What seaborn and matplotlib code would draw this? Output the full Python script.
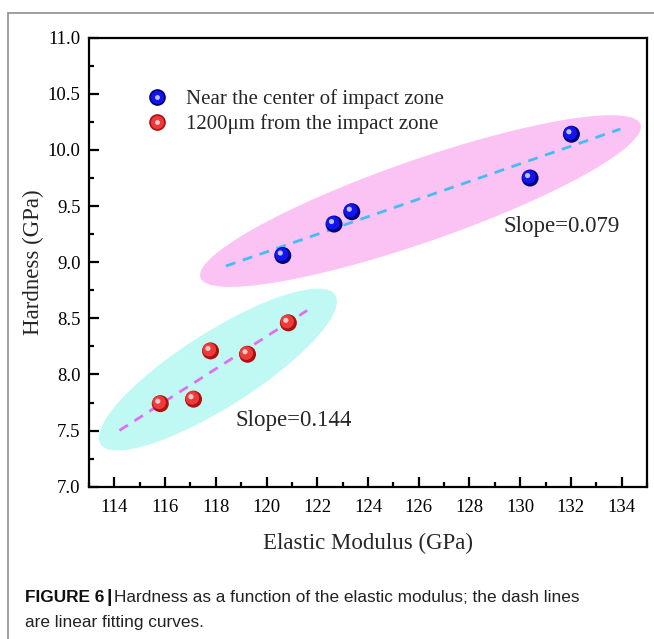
import matplotlib
matplotlib.use("Agg")
import matplotlib.pyplot as plt
import matplotlib.transforms as mtransforms
from matplotlib.patches import Ellipse
from matplotlib.lines import Line2D
from matplotlib.legend_handler import HandlerTuple
from matplotlib.ticker import MultipleLocator
import numpy as np
import pandas as pd
import seaborn as sns

# data
near_modulus = [120.64, 122.66, 123.36, 130.39, 132.02]
near_hardness = [9.06, 9.34, 9.45, 9.75, 10.14]
far_modulus = [115.81, 117.12, 117.79, 119.25, 120.86]
far_hardness = [7.74, 7.78, 8.21, 8.18, 8.46]
labels = ["Near the center of impact zone", "1200\u03bcm from the impact zone"]
slope_labels = ["Slope=0.079", "Slope=0.144"]
near_fit_range = [118.4, 133.95]
far_fit_range = [114.2, 121.6]
x_ticks = list(range(114, 136, 2))
y_ticks = [7.0, 7.5, 8.0, 8.5, 9.0, 9.5, 10.0, 10.5, 11.0]

df = pd.DataFrame({
    "modulus": near_modulus + far_modulus,
    "hardness": near_hardness + far_hardness,
    "group": [labels[0]] * 5 + [labels[1]] * 5,
})

sns.set_theme(style="ticks")
plt.rcParams["font.family"] = ["Liberation Serif", "DejaVu Serif"]

fig = plt.figure(figsize=(6.54, 6.39), dpi=100)
ax = fig.add_axes([0.1361, 0.2383, 0.8532, 0.7027])
ax.set_xlim(113, 135)
ax.set_ylim(7.0, 11.0)

# shaded ellipses (size in inches, centred on a data point)
def blob(cx, cy, a_px, b_px, angle, color):
    tr = fig.dpi_scale_trans + mtransforms.ScaledTranslation(cx, cy, ax.transData)
    e = Ellipse((0, 0), 2 * a_px / 100, 2 * b_px / 100, angle=angle,
                transform=tr, facecolor=color, edgecolor="none", zorder=1)
    ax.add_patch(e)

blob(126.07, 9.545, 233, 41, 19.2, "#fac3f4")
blob(118.08, 8.044, 139, 37.5, 32.4, "#c0f8f4")

# linear fits
for xs, ys, rng, col in [(near_modulus, near_hardness, near_fit_range, "#45bdf0"),
                         (far_modulus, far_hardness, far_fit_range, "#e070ef")]:
    k, b = np.polyfit(xs, ys, 1)
    xx = np.array(rng)
    ax.plot(xx, k * xx + b, color=col, lw=2.0, dashes=(3.6, 2.8), zorder=2)

# spherical markers: dark rim, body, highlight
palette_dark = {labels[0]: "#00007a", labels[1]: "#b01010"}
palette_body = {labels[0]: "#1414f0", labels[1]: "#ee3a3a"}
palette_hi = {labels[0]: "#b8c4ff", labels[1]: "#ffc8c8"}
shift = mtransforms.offset_copy(ax.transData, fig=fig, x=-1.2, y=1.2, units="dots")
shift2 = mtransforms.offset_copy(ax.transData, fig=fig, x=-2.5, y=2.5, units="dots")

sns.scatterplot(data=df, x="modulus", y="hardness", hue="group", palette=palette_dark,
                s=150, linewidth=0, legend=False, ax=ax, zorder=3)
sns.scatterplot(data=df, x="modulus", y="hardness", hue="group", palette=palette_body,
                s=95, linewidth=0, legend=False, ax=ax, zorder=4, transform=shift)
sns.scatterplot(data=df, x="modulus", y="hardness", hue="group", palette=palette_hi,
                s=14, linewidth=0, legend=False, ax=ax, zorder=5, transform=shift2)

handles = []
for lab in labels:
    handles.append((
        Line2D([], [], ls="none", marker="o", ms=12, mec="none", mfc=palette_dark[lab]),
        Line2D([], [], ls="none", marker="o", ms=9.5, mec="none", mfc=palette_body[lab]),
        Line2D([], [], ls="none", marker="o", ms=3.5, mec="none", mfc=palette_hi[lab]),
    ))
ax.legend(handles, labels, handler_map={tuple: HandlerTuple(ndivide=1)},
          loc="upper left", bbox_to_anchor=(0.065, 0.927), frameon=False,
          fontsize=15, handletextpad=0.8, labelspacing=0.25, handlelength=1.2)

ax.text(131.64, 9.314, slope_labels[0], fontsize=16.5, ha="center", va="center")
ax.text(121.07, 7.588, slope_labels[1], fontsize=16.5, ha="center", va="center")

ax.set_xticks(x_ticks)
ax.set_yticks(y_ticks)
ax.set_yticklabels([f"{v:.1f}" for v in y_ticks])
ax.xaxis.set_minor_locator(MultipleLocator(1))
ax.yaxis.set_minor_locator(MultipleLocator(0.25))
ax.tick_params(which="both", direction="in", top=False, right=False,
               width=1.6, colors="black", labelsize=13.5)
ax.tick_params(axis="x", pad=9)
ax.tick_params(axis="y", pad=6)
ax.tick_params(which="major", length=7)
ax.tick_params(which="minor", length=3.5)
for sp in ax.spines.values():
    sp.set_visible(True)
    sp.set_linewidth(1.6)
    sp.set_color("black")
ax.set_facecolor("white")
ax.grid(False)
ax.set_xlabel("Elastic Modulus (GPa)", fontsize=16.5, labelpad=12)
ax.set_ylabel("Hardness (GPa)", fontsize=16.5, labelpad=3)

# page frame
fig.add_artist(Line2D([8 / 654, 1], [1 - 13 / 639, 1 - 13 / 639], color="#909090", lw=1.2))
fig.add_artist(Line2D([8 / 654, 8 / 654], [0, 1 - 13 / 639], color="#909090", lw=1.2))

cap_font = ["Liberation Sans Narrow", "Liberation Sans", "DejaVu Sans"]
cap_size = 12.4
t1 = fig.text(25 / 654, 1 - 598 / 639, "FIGURE 6", fontsize=cap_size, fontweight="bold",
              family=cap_font, va="center", ha="left", color="#111111")
fig.canvas.draw()
x2 = t1.get_window_extent().x1 / fig.bbox.width
t2 = fig.text(x2 + 0.003, 1 - 598 / 639, "|", fontsize=14, fontweight="bold",
              family=cap_font, va="center", ha="left", color="#111111")
fig.canvas.draw()
x3 = t2.get_window_extent().x1 / fig.bbox.width
fig.text(x3 + 0.003, 1 - 598 / 639,
         "Hardness as a function of the elastic modulus; the dash lines",
         fontsize=cap_size, family=cap_font, va="center", ha="left", color="#222222")
fig.text(25 / 654, 1 - 623 / 639, "are linear fitting curves.", fontsize=cap_size,
         family=cap_font, va="center", ha="left", color="#222222")

fig.savefig("out.png", dpi=100)
